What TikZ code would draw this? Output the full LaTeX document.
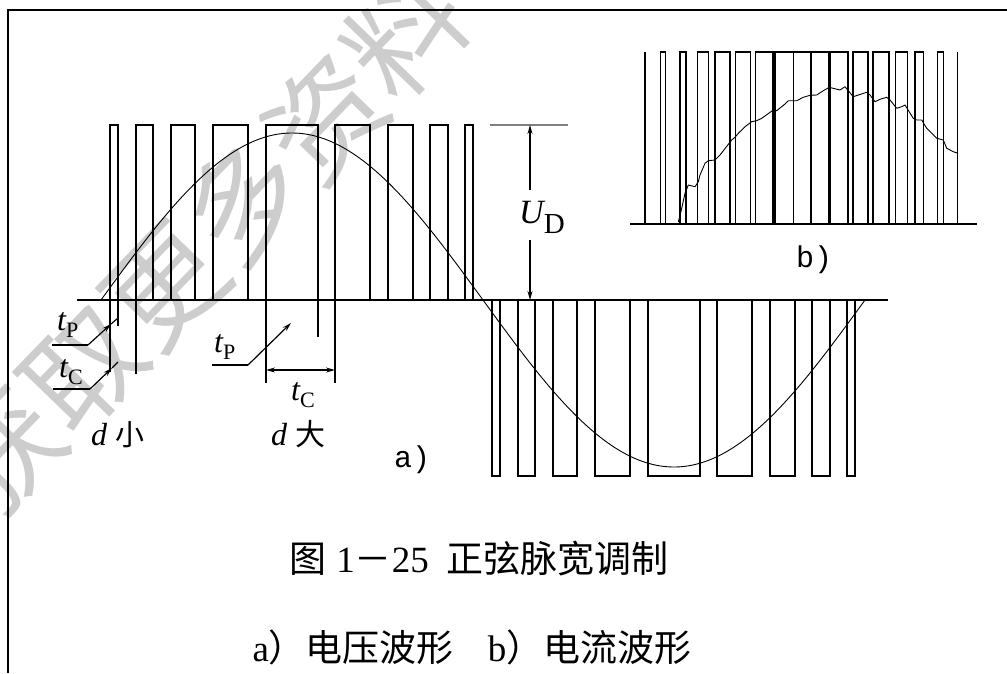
\documentclass[tikz,border=0pt]{standalone}
\usepackage{fontspec}
\setmainfont{Liberation Serif}
\newfontfamily\cjk{Noto Sans CJK SC}
\newfontfamily\monof{Liberation Mono}
\usetikzlibrary{arrows.meta}
\definecolor{wmgray}{RGB}{205,205,205}
\newcommand\tlab[1]{{\fontsize{32}{32}\selectfont\itshape t}\raisebox{-7pt}{\fontsize{22}{22}\selectfont #1}}
\begin{document}
\begin{tikzpicture}[x=1pt,y=-1pt,
  frameline/.style={line width=1.8pt},
  pulse/.style={line width=1.7pt, line join=miter},
  thickpulse/.style={line width=3.4pt},
  wave/.style={line width=0.9pt, line join=round},
  lead/.style={line width=1.2pt},
  tipend/.style={-{Stealth[length=9pt,width=5pt]}},
  dtip/.style={{Stealth[length=9pt,width=5pt]}-{Stealth[length=9pt,width=5pt]}},
  lab/.style={inner sep=0pt, anchor=base west},
  wmtext/.style={text=wmgray, font=\cjk\fontsize{116}{116}\selectfont, inner sep=0pt},
  captext/.style={inner sep=0pt, font=\fontsize{37}{37}\selectfont}]
\useasboundingbox (0,0) rectangle (1007,673);
% watermark
\node[wmtext, rotate=46] (wmark) at (204,243) {获取更多资料};
% frame
\coordinate (fL) at (8,673); \coordinate (fC) at (8,10); \coordinate (fR) at (1007,10);
\draw[frameline] (fL) -- (fC) -- (fR);
% main baseline
\coordinate (b0) at (77,300); \coordinate (b1) at (888,300);
\draw[pulse] (b0) -- (b1);
% positive pulses
\foreach \c/\w in {114/8, 144.5/17, 183/24, 230.5/35, 292/52, 352.5/35, 400.5/25, 439/18, 469/8}{
  \draw[pulse] ({\c-\w/2},300) |- ({\c+\w/2},125) -- ({\c+\w/2},300);
  \draw[pulse] ({\c+382-\w/2},300) |- ({\c+382+\w/2},476) -- ({\c+382+\w/2},300);
}
% sine wave
\draw[wave] plot[domain=101:865, samples=240] (\x, {300-167*sin((\x-101)/382*180)});
% extension lines below baseline
\draw[pulse] (110,300) -- (110,372);
\draw[pulse] (118,300) -- (118,326);
\draw[pulse] (136,300) -- (136,374);
\draw[pulse] (266,300) -- (266,383);
\draw[pulse] (318,300) -- (318,337);
\draw[pulse] (335,300) -- (335,383);
% U_D dimension
\coordinate (udL) at (490,125); \coordinate (udR) at (568,125);
\draw[line width=1.8pt, gray] (udL) -- (udR);
\coordinate (udT) at (530,125); \coordinate (udA) at (530,190);
\coordinate (udC) at (530,240); \coordinate (udB) at (530,300);
\draw[lead, tipend] (udA) -- (udT);
\draw[lead, tipend] (udC) -- (udB);
\node[lab] (UD) at (519,223) {{\fontsize{34}{34}\selectfont\itshape U}\raisebox{-10pt}{\fontsize{29}{29}\selectfont D}};
% left t_P / t_C leaders
\node[lab] (tP1) at (57,330) {\tlab{P}};
\coordinate (tP1a) at (52,345); \coordinate (tP1b) at (88,345); \coordinate (tP1c) at (111,324); \coordinate (tP1d) at (118,318);
\draw[lead] (tP1a) -- (tP1b);
\draw[lead, tipend] (tP1b) -- (tP1c);
\draw[lead] (tP1c) -- (tP1d);
\node[lab] (tC1) at (59,377) {\tlab{C}};
\coordinate (tC1a) at (53,389); \coordinate (tC1b) at (90,389); \coordinate (tC1c) at (112,368); \coordinate (tC1d) at (118,362);
\draw[lead] (tC1a) -- (tC1b);
\draw[lead, tipend] (tC1b) -- (tC1c);
\draw[lead] (tC1c) -- (tC1d);
% middle t_P / t_C
\node[lab] (tP2) at (214,352) {\tlab{P}};
\coordinate (tP2a) at (212,365); \coordinate (tP2b) at (248,365); \coordinate (tP2c) at (291,323);
\draw[lead] (tP2a) -- (tP2b);
\draw[lead, tipend] (tP2b) -- (tP2c);
\coordinate (tC2a) at (266,370); \coordinate (tC2b) at (335,370);
\draw[lead, dtip] (tC2a) -- (tC2b);
\node[lab] (tC2) at (291,400) {\tlab{C}};
% d labels
\node[lab] (dS) at (91,445) {{\fontsize{32}{32}\selectfont\itshape d}\hspace{8pt}{\cjk\fontsize{29}{29}\selectfont 小}};
\node[lab] (dL) at (271,445) {{\fontsize{32}{32}\selectfont\itshape d}\hspace{8pt}{\cjk\fontsize{30}{30}\selectfont 大}};
\node[inner sep=0pt] (la) at (412,460) {\monof\fontsize{30}{30}\selectfont a)};
% inset b)
\coordinate (ib0) at (630,224); \coordinate (ib1) at (977,224);
\draw[pulse] (ib0) -- (ib1);
\draw[pulse] (645,224) -- (645,52);
\draw[pulse] (957.5,224) -- (957.5,52);
\foreach \l/\r in {660.5/665.5, 680/686, 697.5/708.6, 715/730, 735.5/750.6, 755.6/774, 774/793.6, 793.6/811, 811/829.6, 829.6/848, 853/868, 873/889, 895.5/907.5, 915/923.5, 937.5/943.5}{
  \draw[pulse] (\l,224) |- (\r,52) -- (\r,224);
}
\draw[thickpulse] (774,224) -- (774,52);
\draw[thickpulse] (829.6,224) -- (829.6,52);
\draw[wave] (678.3,222) -- (681.7,208.3) -- (685,193.3) -- (688.3,185) -- (695,186.7) -- (698.3,181.7) -- (700,175) -- (705,163.3) -- (708.3,160.7) -- (715,160) -- (720,155) -- (731.7,140) -- (735,137.3) -- (738.3,133.3) -- (745,126.7) -- (751.7,121.7) -- (756.7,120.7) -- (761.7,118.3) -- (773.3,110) -- (776.7,110.7) -- (785,104) -- (788.3,100.7) -- (796.7,100.7) -- (803.3,97.3) -- (810,95.3) -- (816.7,95) -- (823.3,90.7) -- (829.3,87.3) -- (840,90) -- (845,86.7) -- (848.3,90.7) -- (853.3,96.7) -- (858.3,95) -- (866.7,92.3) -- (870,95) -- (875,101.7) -- (880,99.3) -- (886.7,97.3) -- (890,100) -- (896.7,108.3) -- (901.7,106.7) -- (905,105) -- (913.3,118.3) -- (916.7,120) -- (921.7,120) -- (926.7,128.3) -- (936.7,138.3) -- (943.3,140) -- (946.7,148.3) -- (953.3,151.7) -- (958,153.3);
\node[inner sep=0pt] (lb) at (814,260) {\monof\fontsize{30}{30}\selectfont b)};
% captions
\node[captext] (cap1) at (479,559) {{\cjk 图}\hspace{10pt}1{\cjk －}25\hspace{18pt}{\cjk 正弦脉宽调制}};
\node[captext] (cap2) at (472,647) {a{\cjk ）电压波形}\hspace{34pt}b{\cjk ）电流波形}};
\end{tikzpicture}
\end{document}
